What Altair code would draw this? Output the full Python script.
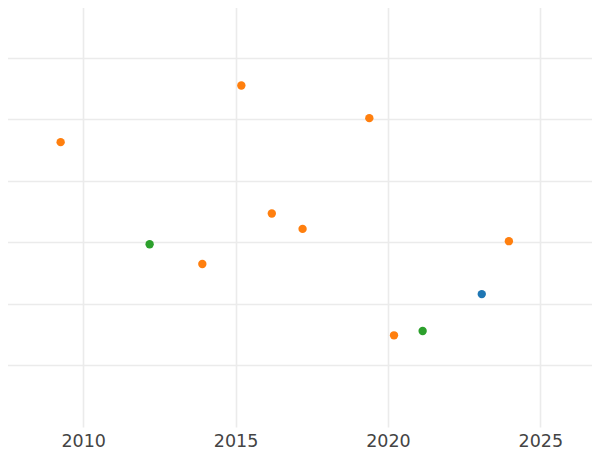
import altair as alt
import pandas as pd

years = [2009.26, 2015.19, 2019.39, 2016.19, 2017.20, 2012.18, 2013.91, 2023.97, 2023.08, 2021.14, 2020.20]
values = [4.63, 5.55, 5.02, 3.47, 3.22, 2.97, 2.65, 3.02, 2.16, 1.56, 1.49]
groups = ["B", "B", "B", "B", "B", "C", "B", "B", "A", "C", "B"]

df = pd.DataFrame({"year": years, "value": values, "group": groups})

chart = alt.Chart(df).mark_circle(size=70, opacity=1).encode(
    x=alt.X("year:Q", scale=alt.Scale(domain=[2007.27, 2026.96], nice=False, zero=False),
            axis=alt.Axis(values=[2010, 2015, 2020, 2025], format="d", title=None,
                          domain=False, ticks=False, labelFontSize=17.5, labelColor="#444444",
                          labelFont="DejaVu Sans", labelPadding=5,
                          gridColor="#ebebeb", gridWidth=1.6)),
    y=alt.Y("value:Q", scale=alt.Scale(domain=[0.0, 6.94], nice=False, zero=False),
            axis=alt.Axis(values=[1, 2, 3, 4, 5, 6], labels=False, title=None,
                          domain=False, ticks=False, gridColor="#ebebeb", gridWidth=1.6)),
    color=alt.Color("group:N", scale=alt.Scale(domain=["A", "B", "C"],
                    range=["#1f77b4", "#ff7f0e", "#2ca02c"]), legend=None),
).properties(
    width=600, height=427,
    padding={"left": -8, "top": -8, "right": -8, "bottom": 0},
).configure_view(strokeWidth=0)

chart.save("out.html", embed_options={"renderer": "svg", "actions": False})
